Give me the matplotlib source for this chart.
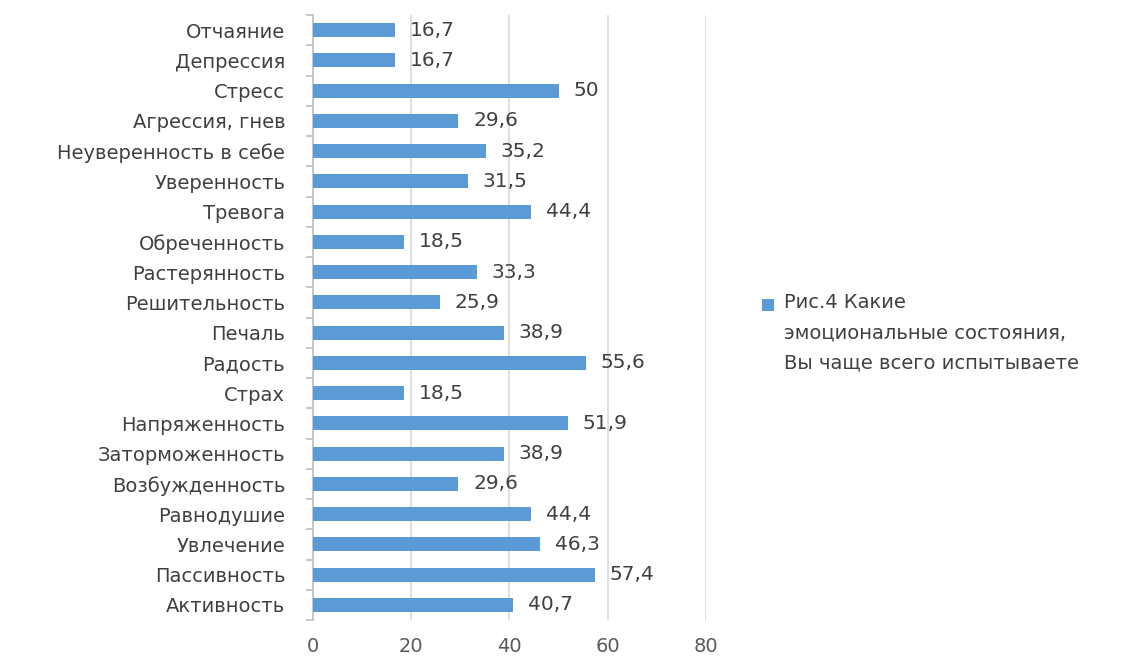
import numpy as np
import matplotlib.pyplot as plt
from matplotlib.patches import Rectangle

# Categories top to bottom as in the picture
categories = ['Отчаяние', 'Депрессия', 'Стресс', 'Агрессия, гнев', 'Неуверенность в себе',
              'Уверенность', 'Тревога', 'Обреченность', 'Растерянность', 'Решительность',
              'Печаль', 'Радость', 'Страх', 'Напряженность', 'Заторможенность',
              'Возбужденность', 'Равнодушие', 'Увлечение', 'Пассивность', 'Активность']
values = [16.7, 16.7, 50, 29.6, 35.2, 31.5, 44.4, 18.5, 33.3, 25.9,
          38.9, 55.6, 18.5, 51.9, 38.9, 29.6, 44.4, 46.3, 57.4, 40.7]
value_labels = ['16,7', '16,7', '50', '29,6', '35,2', '31,5', '44,4', '18,5', '33,3', '25,9',
                '38,9', '55,6', '18,5', '51,9', '38,9', '29,6', '44,4', '46,3', '57,4', '40,7']
x_ticks = [0, 20, 40, 60, 80]
legend_text = 'Рис.4 Какие\nэмоциональные состояния,\nВы чаще всего испытываете'

bar_color = '#5B9BD5'
text_color = '#404040'
grid_color = '#D9D9D9'

plt.rcParams['font.family'] = ['DejaVu Sans']

fig = plt.figure(figsize=(11.44, 6.58), dpi=100)
ax = fig.add_axes([313 / 1144, 1 - 620 / 658, (706 - 313) / 1144, (620 - 15) / 658])

y = np.arange(len(categories))
ax.barh(y, values, height=0.47, color=bar_color, zorder=3)
for yi, v, lab in zip(y, values, value_labels):
    ax.text(v + 3, yi, lab, va='center', ha='left', fontsize=14.5, color=text_color, zorder=4)

ax.set_xlim(0, 80)
ax.set_ylim(len(categories) - 0.5, -0.5)
ax.set_xticks(x_ticks)
ax.set_xticklabels([str(t) for t in x_ticks])
ax.set_yticks(y)
ax.set_yticklabels(categories)
ax.xaxis.grid(True, color=grid_color, linewidth=1.2, zorder=0)
ax.tick_params(axis='x', length=0, pad=12, labelsize=14, labelcolor='#595959')
ax.tick_params(axis='y', length=0, pad=20, labelsize=14, labelcolor=text_color)

# small separator ticks on the category axis
ax.set_yticks(np.arange(len(categories) + 1) - 0.5, minor=True)
ax.tick_params(axis='y', which='minor', length=5, color='#BFBFBF', width=1.2)

for side in ['top', 'right', 'bottom']:
    ax.spines[side].set_visible(False)
ax.spines['left'].set_color('#BFBFBF')
ax.spines['left'].set_linewidth(1.2)

# legend: small square next to the first line of a three-line label
fig.patches.append(Rectangle((762 / 1144, 1 - 311 / 658), 12 / 1144, 12 / 658,
                             transform=fig.transFigure, facecolor=bar_color, edgecolor='none'))
fig.text(784 / 1144, 1 - 293 / 658, legend_text, ha='left', va='top', fontsize=14,
         color=text_color, linespacing=1.75)

fig.savefig('out.png', dpi=100)
